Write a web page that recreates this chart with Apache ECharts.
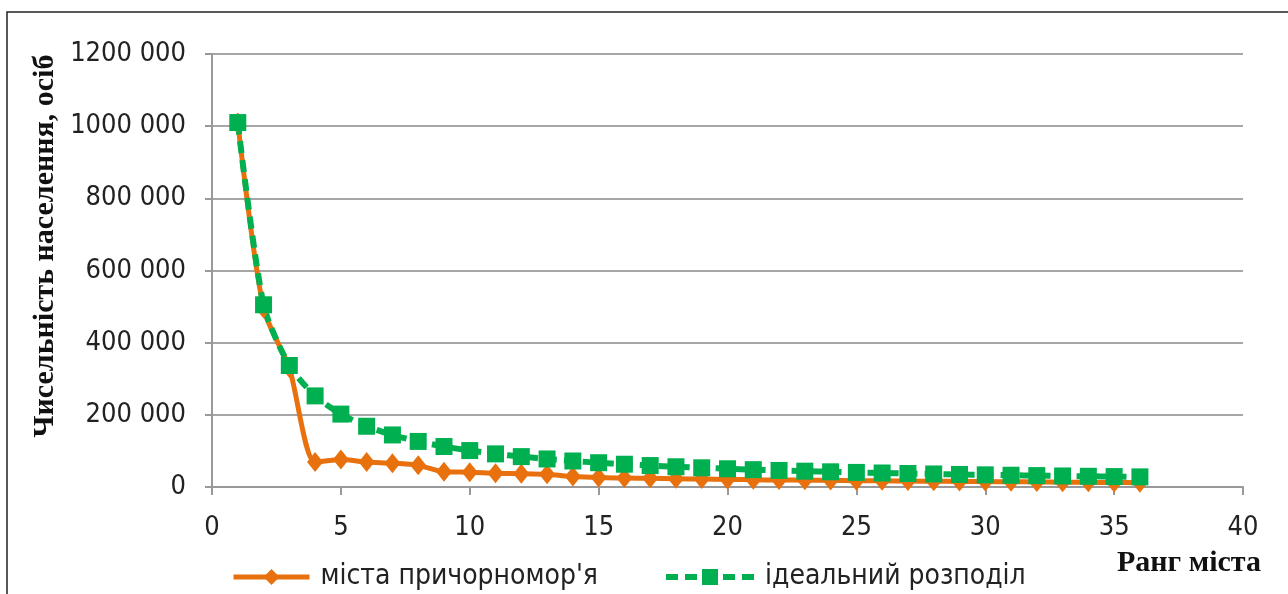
<!DOCTYPE html>
<html><head><meta charset="utf-8">
<script src="https://cdn.jsdelivr.net/npm/echarts@6/dist/echarts.min.js"></script>
<style>html,body{margin:0;padding:0;background:#fff}#c{width:1288px;height:594px}</style>
</head><body><div id="c"></div>
<script>
var ranks = [1,2,3,4,5,6,7,8,9,10,11,12,13,14,15,16,17,18,19,20,21,22,23,24,25,26,27,28,29,30,31,32,33,34,35,36];
var citiesPop = [1010000,495000,330000,69000,76000,69000,66000,60000,42000,41000,38000,37000,35000,29000,26000,25000,24000,23000,22000,21000,20000,19500,19000,18000,17500,17000,16500,16000,15500,15000,14500,14000,13500,13000,12500,12000];
var idealPop = [1010000,505000,336700,252500,202000,168300,144300,126300,112200,101000,91800,84200,77700,72100,67300,63100,59400,56100,53200,50500,48100,45900,43900,42100,40400,38800,37400,36100,34800,33700,32600,31600,30600,29700,28900,28100];
var yTicks = [0,200000,400000,600000,800000,1000000,1200000];
var xTicks = [0,5,10,15,20,25,30,35,40];
var seriesNames = ["міста причорномор'я", "ідеальний розподіл"];
var yTitle = "Чисельність населення, осіб";
var xTitle = "Ранг міста";

function fmt(v){
  if (v < 1000) return String(v);
  var r = v % 1000; var s = String(r); while (s.length < 3) s = '0' + s;
  return Math.floor(v/1000) + ' ' + s;
}
var narrow = "'DejaVu Sans Condensed', 'Liberation Sans Narrow', sans-serif";
var chart = echarts.init(document.getElementById('c'));
chart.setOption({
  animation: false,
  grid: {left: 212, right: 45, top: 54, bottom: 107},
  xAxis: {
    type: 'value', min: xTicks[0], max: xTicks[xTicks.length-1], interval: 5,
    axisLine: {lineStyle: {color: '#999', width: 2}},
    axisTick: {show: true, length: 8, lineStyle: {color: '#999', width: 2}},
    splitLine: {show: false},
    axisLabel: {color: '#222', fontSize: 27, fontFamily: narrow, margin: 27}
  },
  yAxis: {
    type: 'value', min: 0, max: 1200000, interval: 200000,
    axisLine: {show: true, lineStyle: {color: '#999', width: 2}},
    axisTick: {show: true, length: 7, lineStyle: {color: '#999', width: 2}},
    splitLine: {lineStyle: {color: '#a6a6a6', width: 2}},
    axisLabel: {color: '#222', fontSize: 27, fontFamily: narrow, margin: 26, formatter: fmt}
  },
  legend: [
    {data: [seriesNames[0]], left: 226, top: 558, itemWidth: 76, itemHeight: 20, itemGap: 0,
     lineStyle: {width: 5},
     textStyle: {fontSize: 28, fontFamily: narrow, color: '#222', padding: [0,0,0,6]}},
    {data: [seriesNames[1]], left: 658, top: 558, itemWidth: 88, itemHeight: 20, itemGap: 0,
     lineStyle: {width: 6},
     textStyle: {fontSize: 28, fontFamily: narrow, color: '#222', padding: [0,0,0,6]}}
  ],
  graphic: [
    {type: 'rect', shape: {x: 7, y: 12, width: 1320, height: 700}, style: {fill: 'none', stroke: '#222', lineWidth: 1.5}, silent: true},
    {type: 'text', left: 1117, top: 548, style: {text: xTitle, font: "bold 30px 'Liberation Serif', serif", fill: '#111'}},
    {type: 'text', x: 45, y: 246, rotation: Math.PI/2, style: {text: yTitle, font: "bold 30px 'Liberation Serif', serif", fill: '#111', align: 'center', verticalAlign: 'middle'}}
  ],
  series: [
    {name: seriesNames[0], type: 'line', smooth: 0.25,
     data: ranks.map(function(r,i){return [r, citiesPop[i]];}),
     symbol: 'diamond', symbolSize: [16, 20],
     lineStyle: {color: '#E8710E', width: 5},
     itemStyle: {color: '#E8710E'}},
    {name: seriesNames[1], type: 'line', smooth: 0.25,
     data: ranks.map(function(r,i){return [r, idealPop[i]];}),
     symbol: 'rect', symbolSize: 17,
     lineStyle: {color: '#00B050', width: 6, type: [12, 7]},
     itemStyle: {color: '#00B050'}}
  ]
});
</script></body></html>
